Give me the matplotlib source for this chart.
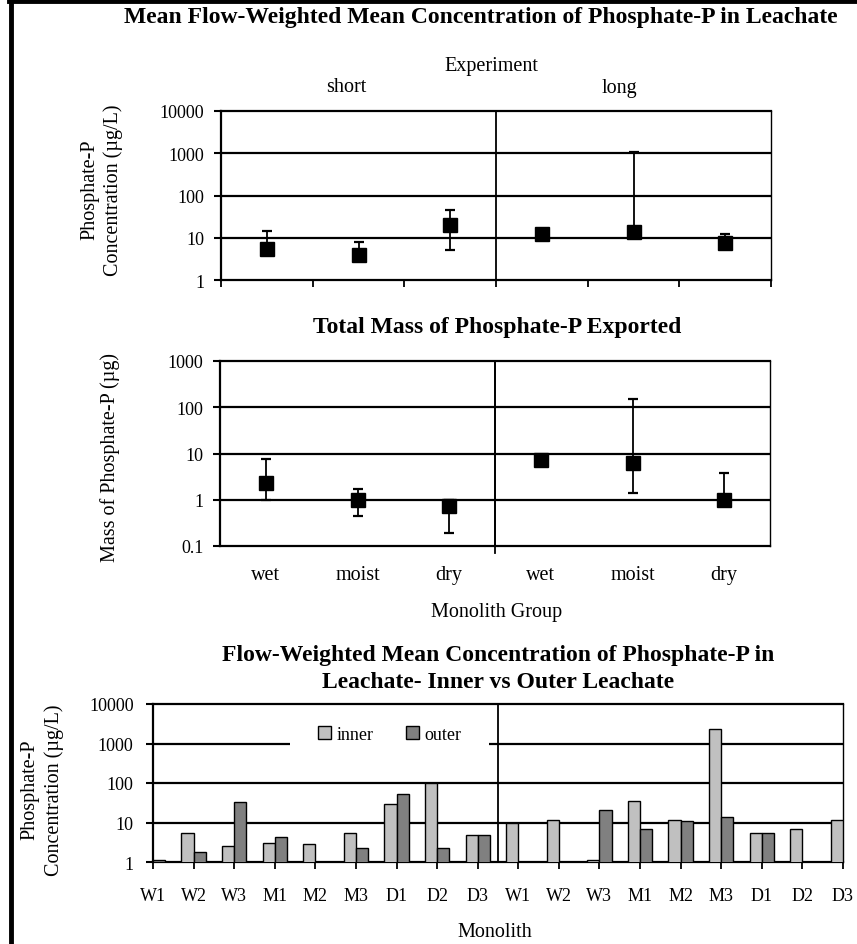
import numpy as np
import matplotlib
matplotlib.use("Agg")
import matplotlib.pyplot as plt
from matplotlib.lines import Line2D
from matplotlib.patches import Rectangle

plt.rcParams['font.family'] = ['Liberation Serif', 'DejaVu Serif']

# ---- data ----
groups = ["wet", "moist", "dry", "wet", "moist", "dry"]
experiments = ["short", "long"]

conc_mean = [5.3, 4.0, 19.5, 12.4, 13.5, 7.5]
conc_low = [4.6, 3.5, 5.2, 11.0, 12.0, 6.3]
conc_high = [14.7, 7.9, 46, 13.5, 1100, 12.4]

mass_mean = [2.25, 1.0, 0.75, 7.2, 6.2, 1.0]
mass_low = [1.0, 0.45, 0.19, 6.5, 1.37, 0.9]
mass_high = [7.5, 1.67, 1.0, 8.0, 150, 3.7]

monoliths = ["W1", "W2", "W3", "M1", "M2", "M3", "D1", "D2", "D3"] * 2
inner = [np.nan, 5.5, 2.5, 3.1, 2.8, 5.5, 30, 98, 4.8,
         10, 11.9, 1.1, 36, 11.9, 2300, 5.3, 6.7, 11.9]
outer = [1.1, 1.75, 33, 4.4, np.nan, 2.2, 52, 2.2, 4.8,
         np.nan, np.nan, 21, 6.9, 10.8, 13.9, 5.3, np.nan, np.nan]

TICK = 13
LAB = 14.5
TTL = 17

W, H = 857, 945
fig = plt.figure(figsize=(W / 100, H / 100), dpi=100)


def pos(x0, x1, y0, y1):
    return [x0 / W, 1 - y1 / H, (x1 - x0) / W, (y1 - y0) / H]


def ftext(x, y, s, **kw):
    kw.setdefault("ha", "center")
    kw.setdefault("va", "center")
    fig.text(x / W, 1 - y / H, s, **kw)


def style_log(ax, lo, hi, labels, pad=7):
    ax.set_yscale("log")
    ax.set_ylim(lo, hi)
    ticks = [float(t) for t in labels]
    ax.set_yticks(ticks)
    ax.set_yticklabels(labels, fontsize=TICK)
    ax.yaxis.set_minor_locator(matplotlib.ticker.NullLocator())
    ax.tick_params(axis="y", length=5, width=1.5, pad=pad)
    for t in ticks[1:-1]:
        ax.axhline(t, color="black", lw=1.6, zorder=1)
    for s in ["top", "bottom", "left"]:
        ax.spines[s].set_linewidth(1.6)
    ax.spines["right"].set_linewidth(1.0)


def errplot(ax, mean, low, high):
    x = np.arange(len(mean)) + 0.5
    mean = np.array(mean)
    yerr = [mean - np.array(low), np.array(high) - mean]
    ax.errorbar(x, mean, yerr=yerr, fmt="s", color="black", ms=9.5,
                capsize=3.5, elinewidth=1.3, capthick=1.6, zorder=3)
    ax.set_xlim(0, 6)
    ax.axvline(3, color="black", lw=1.3, zorder=2)


# ---- panel 1 ----
ax1 = fig.add_axes(pos(221, 771, 112, 281))
errplot(ax1, conc_mean, conc_low, conc_high)
style_log(ax1, 1, 10000, ["1", "10", "100", "1000", "10000"])
ax1.set_xticks(range(7))
ax1.set_xticklabels([])
ax1.tick_params(axis="x", length=5, width=1.3, direction="out")

ftext(481, 17, "Mean Flow-Weighted Mean Concentration of Phosphate-P in Leachate",
      fontsize=TTL, fontweight="bold")
ftext(491, 66, "Experiment", fontsize=LAB)
ftext(346, 88, experiments[0], fontsize=LAB)
ftext(619, 88, experiments[1], fontsize=LAB)
ftext(102, 190, "Phosphate-P\nConcentration (\u00b5g/L)", fontsize=LAB,
      rotation=90, multialignment="center", linespacing=1.25)

# ---- panel 2 ----
ax2 = fig.add_axes(pos(220, 770, 362, 547))
errplot(ax2, mass_mean, mass_low, mass_high)
style_log(ax2, 0.1, 1000, ["0.1", "1", "10", "100", "1000"])
ax2.set_xticks(np.arange(6) + 0.5)
ax2.set_xticklabels(groups, fontsize=LAB)
ax2.tick_params(axis="x", length=0, pad=14)
ax2.axvline(3, ymin=-0.04, ymax=1, color="black", lw=1.3, clip_on=False)

ftext(497, 328, "Total Mass of Phosphate-P Exported", fontsize=TTL, fontweight="bold")
ftext(497, 612, "Monolith Group", fontsize=LAB)
ftext(110, 457, "Mass of Phosphate-P (\u00b5g)", fontsize=LAB, rotation=90)

# ---- panel 3 ----
ax3 = fig.add_axes(pos(153, 843, 705, 863))
x = np.arange(len(monoliths))
bw = 0.3
ax3.bar(x - bw / 2, inner, bw, color="#c0c0c0", edgecolor="black", lw=1,
        label="inner", zorder=3)
ax3.bar(x + bw / 2, outer, bw, color="#808080", edgecolor="black", lw=1,
        label="outer", zorder=3)
ax3.set_xlim(0, 17)
style_log(ax3, 1, 10000, ["1", "10", "100", "1000", "10000"], pad=9)
ax3.set_xticks(x)
ax3.set_xticklabels(monoliths, fontsize=TICK)
ax3.tick_params(axis="x", length=5, width=1.3, direction="out", pad=13)
ax3.axvline(8.5, color="black", lw=1.3, zorder=2)
# white box behind the legend hides part of the 1000 line
ax3.add_patch(Rectangle((0.199, 0.70), 0.288, 0.20, transform=ax3.transAxes,
                        facecolor="white", edgecolor="none", zorder=2))
leg = ax3.legend(loc="center", bbox_to_anchor=(0.343, 0.81), ncol=2, frameon=False,
                 fontsize=TICK, handlelength=0.7, handleheight=0.7, handletextpad=0.3,
                 columnspacing=1.8)
leg.set_zorder(5)

ftext(498, 655, "Flow-Weighted Mean Concentration of Phosphate-P in",
      fontsize=TTL, fontweight="bold")
ftext(498, 683, "Leachate- Inner vs Outer Leachate", fontsize=TTL, fontweight="bold")
ftext(495, 933, "Monolith", fontsize=LAB)
ftext(42, 790, "Phosphate-P\nConcentration (\u00b5g/L)", fontsize=LAB,
      rotation=90, multialignment="center", linespacing=1.3)

# page border on left and top
fig.add_artist(Line2D([11 / W, 11 / W], [0, 1], color="black", lw=3.5))
fig.add_artist(Line2D([9 / W, 1], [1 - 1.5 / H, 1 - 1.5 / H], color="black", lw=3.5))

fig.savefig("out.png", dpi=100)
